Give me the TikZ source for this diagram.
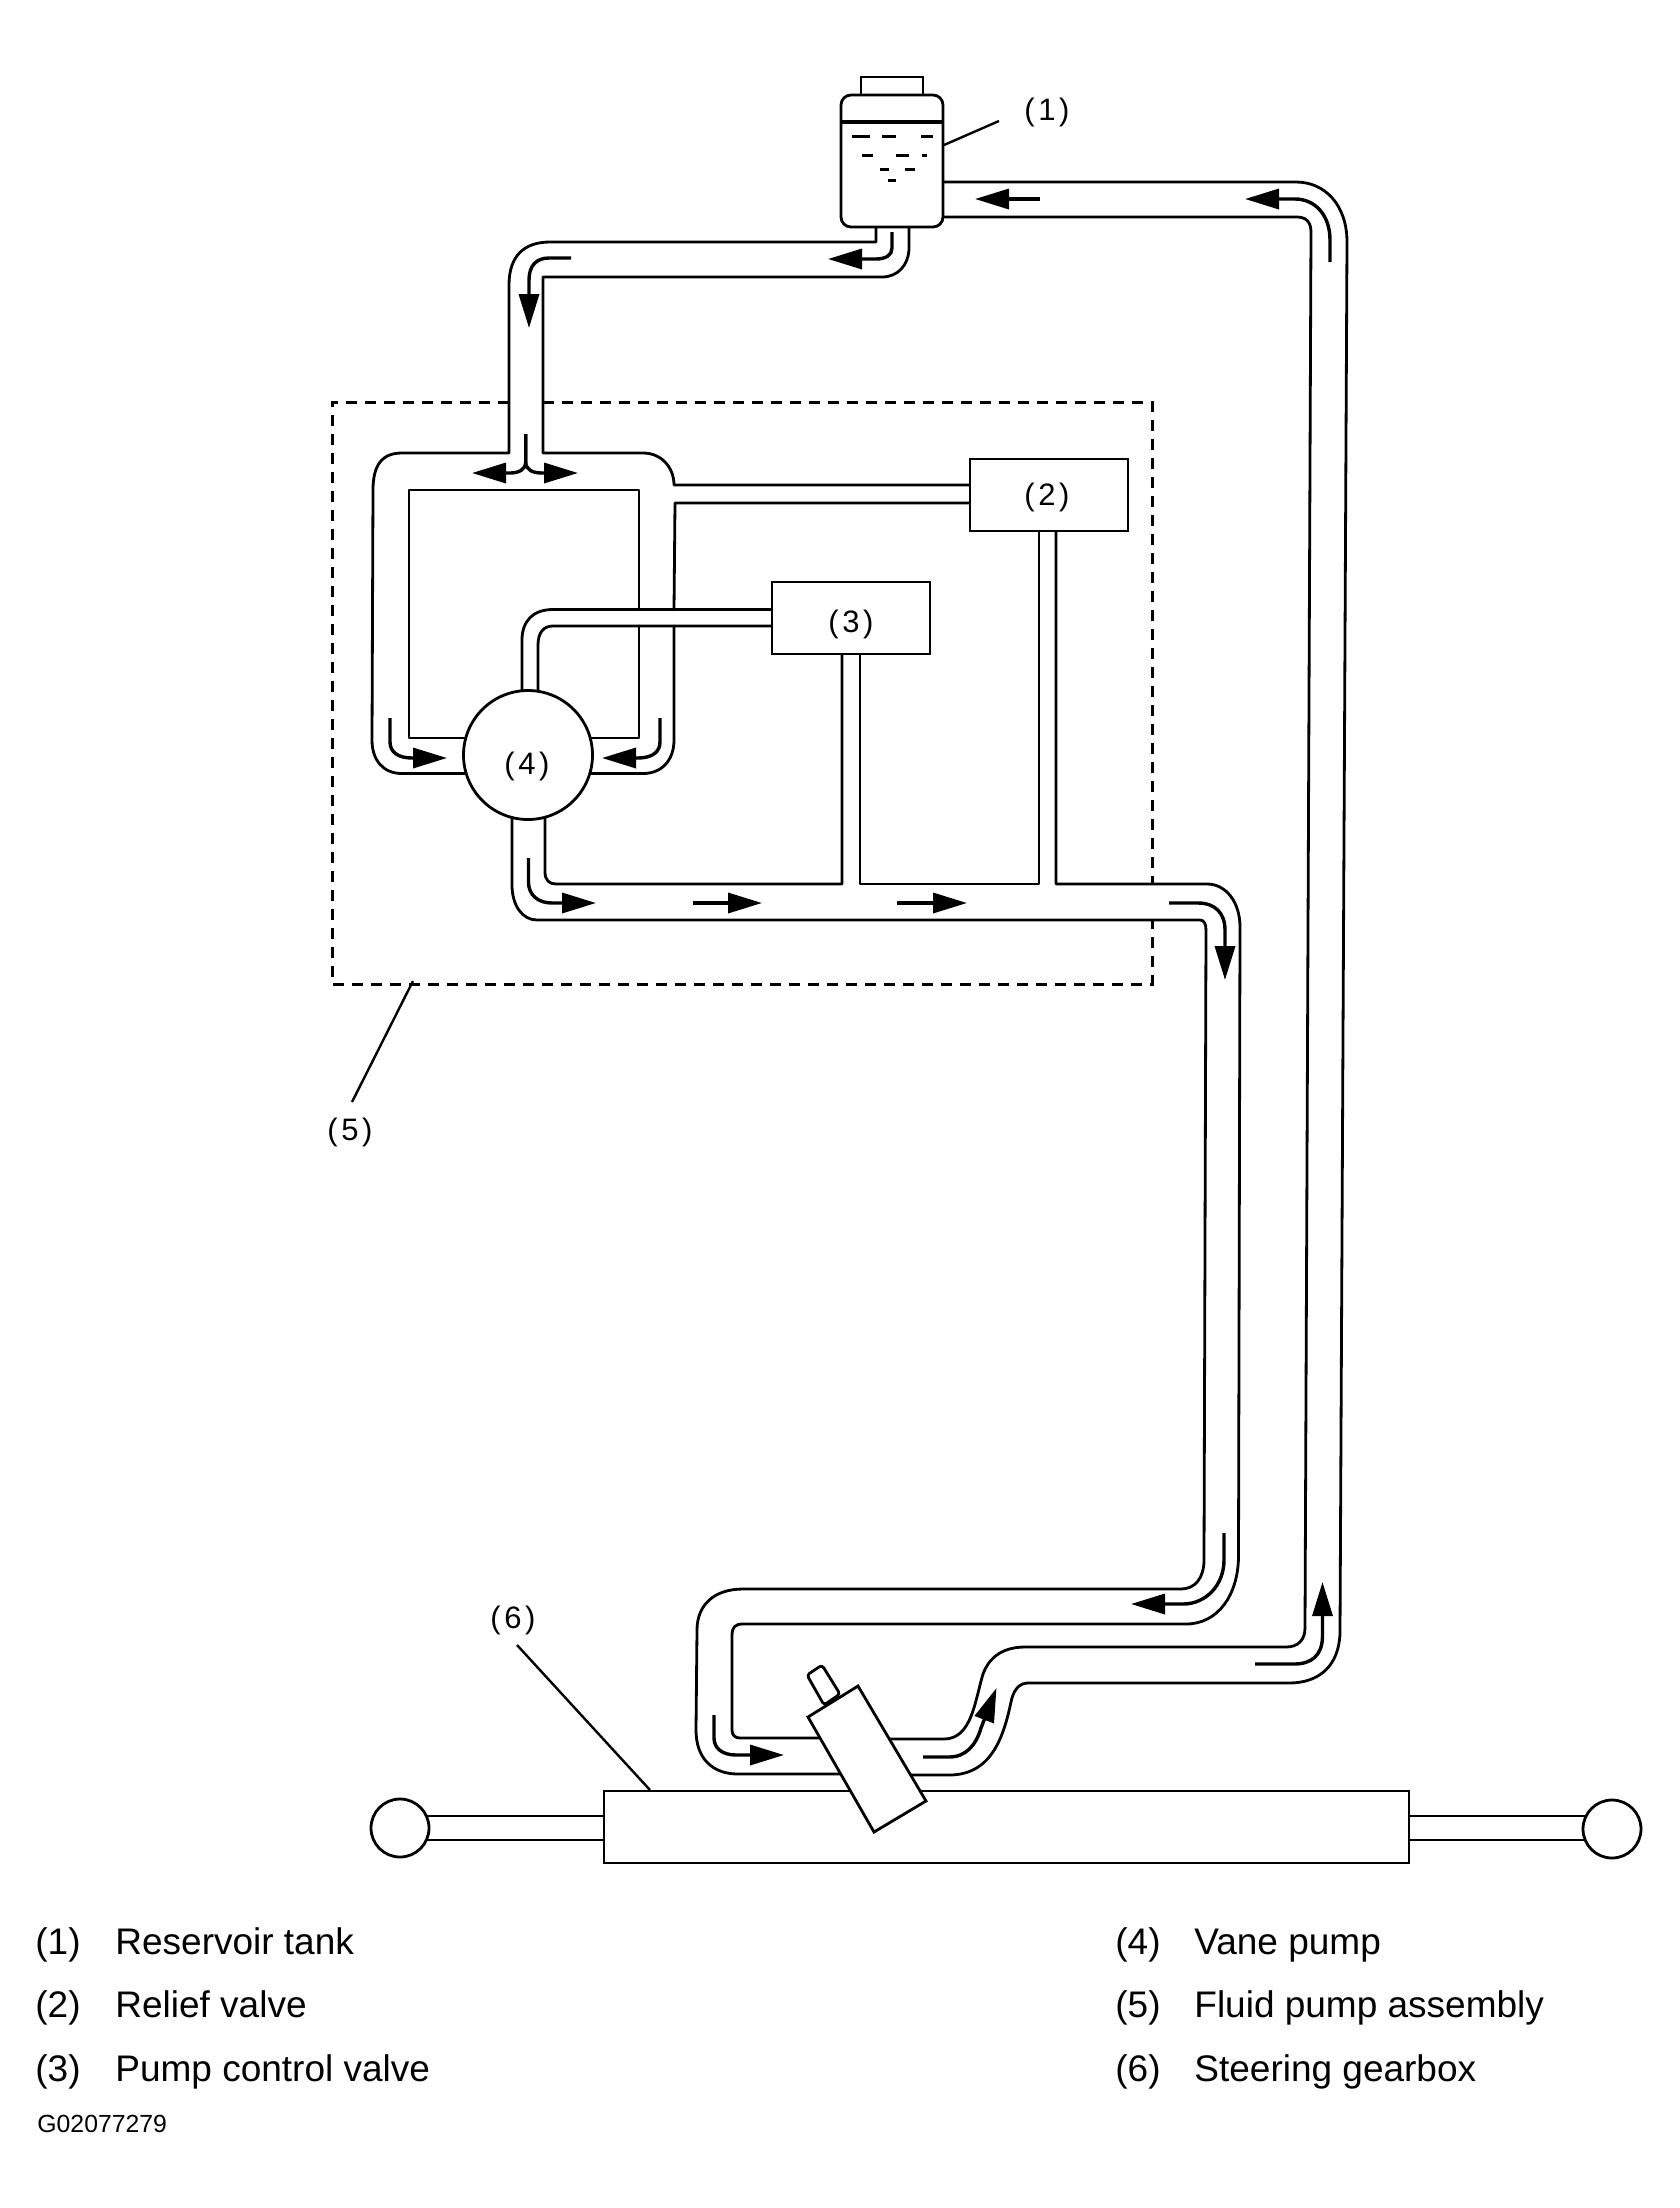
\documentclass[tikz,border=0pt]{standalone}
\usepackage{fontspec}
\setmainfont{Liberation Sans}
\usetikzlibrary{arrows.meta}
\tikzset{
  pipe/.style={line width=1.4pt,line join=round,line cap=round},
  flow/.style={line width=1.7pt,-{Triangle[length=17pt,width=10pt]}},
  box/.style={draw,line width=1.4pt,fill=white,inner sep=0pt},
  dashbox/.style={line width=1.5pt,dash pattern=on 5.5pt off 4pt},
  leader/.style={line width=1.2pt},
  tag/.style={font=\fontsize{15.5}{18}\selectfont,inner sep=0pt},
  legend/.style={font=\fontsize{18.5}{20}\selectfont,anchor=base west,inner sep=0pt},
  drop/.style={line width=1.5pt}
}
\newcommand{\partno}[1]{(\kern1.8pt#1\kern1.8pt)}
\begin{document}
\begin{tikzpicture}[x=0.5pt,y=-0.5pt]
\useasboundingbox (0,0) rectangle (1680,2208);
% fluid pump assembly outline
\draw[dashbox] (509,402) -- (332,402) -- (332,984) -- (1152,984) -- (1152,921);
\draw[dashbox] (543,402) -- (1152,402) -- (1152,884);
% return pipe
\draw[pipe] (943,182) -- (1296,182) .. controls (1325,182) and (1347,205) .. (1347,242) -- (1340,1633) .. controls (1339,1665) and (1320,1683) .. (1289,1683) -- (1030,1683) .. controls (1018,1682) and (1013,1692) .. (1011,1702) .. controls (1003,1740) and (990,1775) .. (949,1775) -- (880,1775);
\draw[pipe] (943,217) -- (1297,217) .. controls (1306,217) and (1311,222) .. (1311,232) -- (1305,1628) .. controls (1305,1640) and (1298,1647) .. (1286,1647) -- (1025,1647) .. controls (1000,1647) and (988,1660) .. (983,1674) .. controls (975,1700) and (972,1739) .. (944,1739) -- (870,1739);
% reservoir outlet and pump feed
\draw[pipe] (876,220) -- (876,242) -- (550,242) .. controls (525,242) and (509,255) .. (509,285) -- (509,453) -- (402,453) .. controls (382,453) and (373,465) .. (373,490) -- (372,740) .. controls (372,760) and (383,773.5) .. (402,773.5) -- (480,773.5);
\draw[pipe] (909,220) -- (909,250) .. controls (908,265) and (898,277) .. (882,277) -- (543,277) -- (543,453) -- (643,453) .. controls (662,453) and (674,468) .. (674,485) -- (980,485);
\draw[pipe] (980,503) -- (675,503) -- (674,610);
\draw[pipe] (674,626) -- (674,740) .. controls (674,760) and (662,773.5) .. (643,773.5) -- (580,773.5);
\draw[pipe] (480,738) -- (409,738) -- (409,490) -- (639,490) -- (639,610);
\draw[pipe] (639,626) -- (639,738) -- (580,738);
% control valve line
\draw[pipe] (780,609.5) -- (553,609.5) .. controls (532,609.5) and (522,622) .. (522,640) -- (522,700);
\draw[pipe] (780,626) -- (553,626) .. controls (544,626) and (538,632) .. (538,645) -- (538,700);
% pressure pipe
\draw[pipe] (545,810) -- (545,872) .. controls (545,880) and (549,884) .. (556,884) -- (842,884) -- (842,650);
\draw[pipe] (860,650) -- (860,884) -- (1039,884) -- (1039,525);
\draw[pipe] (1056,525) -- (1056,884) -- (1207,884) .. controls (1226,884) and (1240,902) .. (1240,927) -- (1238.5,1557) .. controls (1238,1595) and (1218,1624) .. (1186,1624) -- (743,1624) .. controls (735,1624) and (732,1627) .. (732,1636) -- (732,1730) .. controls (732,1735) and (735,1738) .. (740,1738) -- (830,1738);
\draw[pipe] (512,810) -- (512,885) .. controls (512,905) and (522,920) .. (537,920) -- (1200,920) .. controls (1204,920) and (1206,924) .. (1206,930) -- (1204,1560) .. controls (1204,1578) and (1195,1589) .. (1181,1589) -- (743,1589) .. controls (714,1589) and (697,1605) .. (697,1630) -- (696,1730) .. controls (696,1758) and (712,1774) .. (738,1774) -- (850,1774);
% gearbox rods
\draw[pipe] (420,1816) -- (610,1816);
\draw[pipe] (420,1840) -- (610,1840);
\draw[pipe] (1400,1816) -- (1590,1816);
\draw[pipe] (1400,1840) -- (1590,1840);
% reservoir
\node[box,minimum width=31pt,minimum height=10pt] (cap) at (892,87) {};
\node[box,rounded corners=5pt,minimum width=51pt,minimum height=66pt] (tank) at (892,161) {};
\draw[line width=1.8pt] (tank.west |- 0,122) -- (tank.east |- 0,122);
\draw[drop] (852,136) -- (870,136) (882,136) -- (896,136) (921,136) -- (933,136)
 (862,155) -- (873,155) (896,155) -- (909,155) (922,155) -- (927,155)
 (880,169) -- (889,169) (905,169) -- (915,169) (888,180) -- (896,180);
% valves and pump
\node[box,minimum width=79pt,minimum height=36pt] (relief) at (1049,495) {};
\node[box,minimum width=79pt,minimum height=36pt] (control) at (851,618) {};
\node[box,circle,minimum size=64.5pt] (vane) at (528,755) {};
\node[box,minimum width=402.5pt,minimum height=36pt] (gearbox) at (1006.5,1827) {};
\node[box,circle,minimum size=29pt] (ballL) at (400,1828) {};
\node[box,circle,minimum size=29pt] (ballR) at (1612,1829) {};
\filldraw[box,rounded corners=1.5pt] (824,1705) -- (807,1675) -- (822,1665) -- (840,1694) -- cycle;
\filldraw[box] (808,1717) -- (858,1686) -- (926,1801) -- (874,1832) -- cycle;
% flow arrows
\draw[flow] (1040,199) -- (975,199);
\draw[flow] (1330,262) -- (1330,240) .. controls (1330,215) and (1315,199) .. (1295,199) -- (1245,199);
\draw[flow] (892,232) -- (892,248) .. controls (892,255) and (886,259) .. (876,259) -- (828,259);
\draw[flow] (571,258) -- (549,258) .. controls (536,258) and (529,266) .. (529,280) -- (529,328);
\draw[flow] (525.7,434) -- (525.7,462) .. controls (525.7,470) and (518,473) .. (510,473) -- (472,473);
\draw[flow] (525.7,434) -- (525.7,462) .. controls (525.7,470) and (533,473) .. (542,473) -- (578,473);
\draw[flow] (390,718) -- (390,742) .. controls (390,752) and (398,758) .. (412,758) -- (447,758);
\draw[flow] (660,718) -- (660,742) .. controls (660,752) and (652,758) .. (638,758) -- (602,758);
\draw[flow] (528.5,858) -- (528.5,882) .. controls (528.5,895) and (538,903) .. (552,903) -- (596,903);
\draw[flow] (693,903) -- (762,903);
\draw[flow] (897,903) -- (967,903);
\draw[flow] (1169,903) -- (1198,903) .. controls (1215,903) and (1225,913) .. (1225,930) -- (1225,980);
\draw[flow] (1224,1533) -- (1224,1560) .. controls (1224,1585) and (1206,1604) .. (1183,1604) -- (1131,1604);
\draw[flow] (714,1715) -- (714,1738) .. controls (714,1748) and (722,1755) .. (736,1755) -- (784,1755);
\draw[flow] (923,1757) -- (949,1757) .. controls (966,1757) and (976,1745) .. (981,1728) -- (996.5,1688);
\draw[flow] (1255,1664) -- (1294,1664) .. controls (1312,1664) and (1322,1655) .. (1322.5,1637) -- (1322.5,1582);
% part tags and leaders
\node[tag] (t1) at (1047,112) {\partno{1}};
\node[tag] (t2) at (1047,497) {\partno{2}};
\node[tag] (t3) at (851,624) {\partno{3}};
\node[tag] (t4) at (527,766) {\partno{4}};
\node[tag] (t5) at (350,1132) {\partno{5}};
\node[tag] (t6) at (513,1620) {\partno{6}};
\coordinate (l1a) at (999,121); \coordinate (l1b) at (944,145);
\coordinate (l5a) at (352,1102); \coordinate (l5b) at (413,981);
\coordinate (l6a) at (517,1645); \coordinate (l6b) at (650,1790);
\draw[leader] (l1a) -- (l1b);
\draw[leader] (l5a) -- (l5b);
\draw[leader] (l6a) -- (l6b);
% legend
\node[legend] (k1n) at (35,1954) {(1)};
\node[legend] (k1t) at (115,1954) {Reservoir tank};
\node[legend] (k2n) at (35,2017) {(2)};
\node[legend] (k2t) at (115,2017) {Relief valve};
\node[legend] (k3n) at (35,2081) {(3)};
\node[legend] (k3t) at (115,2081) {Pump control valve};
\node[legend] (k4n) at (1115,1954) {(4)};
\node[legend] (k4t) at (1194,1954) {Vane pump};
\node[legend] (k5n) at (1115,2017) {(5)};
\node[legend] (k5t) at (1194,2017) {Fluid pump assembly};
\node[legend] (k6n) at (1115,2081) {(6)};
\node[legend] (k6t) at (1194,2081) {Steering gearbox};
\node[anchor=base west,inner sep=0pt,font=\fontsize{12.4}{14}\selectfont] (code) at (37,2132) {G02077279};
\end{tikzpicture}
\end{document}
